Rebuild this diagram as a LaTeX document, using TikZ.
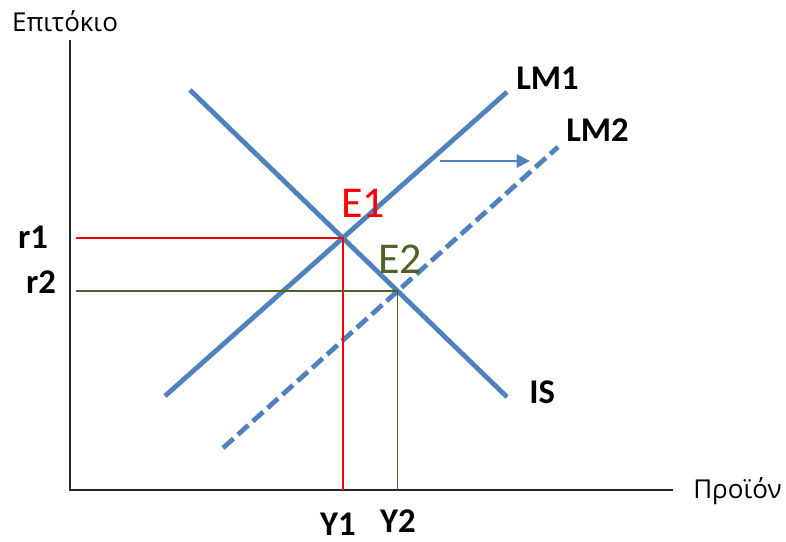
\documentclass[tikz,border=0pt]{standalone}
\usepackage{fontspec}
\setmainfont{Carlito}
\newfontfamily\axisfont{Open Sans}
\usetikzlibrary{arrows.meta, calc}
\definecolor{curveblue}{RGB}{79,129,189}
\definecolor{eqred}{RGB}{255,0,0}
\definecolor{eqgreen}{RGB}{79,98,40}

\begin{document}
\begin{tikzpicture}[
  x=0.75pt, y=-0.75pt,
  axis/.style={line width=1.5pt, black!85},
  curve/.style={line width=3.6pt, curveblue},
  dashcurve/.style={curve, dash pattern=on 10.5pt off 4.5pt},
  shiftarr/.style={-{Triangle[length=10pt,width=10pt]}, line width=1.5pt, curveblue},
  guidered/.style={line width=1.1pt, eqred},
  guidegreen/.style={line width=1.2pt, eqgreen},
  axlbl/.style={font=\axisfont\fontsize{19.5}{24}\selectfont, inner sep=0pt},
  curvelbl/.style={font=\bfseries\fontsize{26}{30}\selectfont, inner sep=0pt},
  eqlbl/.style={font=\fontsize{33}{38}\selectfont, inner sep=0pt}
]
\useasboundingbox (0,0) rectangle (786,542);

% ── Axes ───────────────────────────────────────────────────────
\coordinate (origin) at (70,490);
\coordinate (ytop)   at (70,40);
\coordinate (xend)   at (673,490);
\draw[axis] (ytop) -- (origin) -- (xend);

\node[axlbl, anchor=base]      (ylab) at (65,32)  {Επιτόκιο};
\node[axlbl, anchor=base west] (xlab) at (693,498) {Προϊόν};

% ── Curves ─────────────────────────────────────────────────────
\coordinate (lmA) at (165,396);  \coordinate (lmB) at (507,92);
\coordinate (isA) at (190,90);   \coordinate (isB) at (507,397);
\coordinate (lnA) at (223,448);  \coordinate (lnB) at (558,147);

\draw[curve]     (lmA) -- (lmB);
\draw[curve]     (isA) -- (isB);
\draw[dashcurve] (lnA) -- (lnB);

\node[curvelbl, anchor=base west] (lm1) at (516,90)  {LM1};
\node[curvelbl, anchor=base west] (lm2) at (566,142) {LM2};
\node[curvelbl, anchor=base west] (is)  at (529,403) {IS};

% ── Shift of LM ────────────────────────────────────────────────
\coordinate (shiftA) at (440,161);
\coordinate (shiftB) at (530,161);
\draw[shiftarr] (shiftA) -- (shiftB);

% ── Equilibria ─────────────────────────────────────────────────
\coordinate (e1) at (intersection of lmA--lmB and isA--isB);
\coordinate (e2) at (intersection of lnA--lnB and isA--isB);
\coordinate (gstart) at (76,0);

\draw[guidered]   (gstart |- e1) -- (e1) -- (e1 |- origin);
\draw[guidegreen] (gstart |- e2) -- (e2) -- (e2 |- origin);

\node[eqlbl, eqred,   anchor=base west] (e1lbl) at (341,217) {E1};
\node[eqlbl, eqgreen, anchor=base west] (e2lbl) at (378,273) {E2};

\node[curvelbl, anchor=base] (r1) at (33,248)  {r1};
\node[curvelbl, anchor=base] (r2) at (41,293)  {r2};
\node[curvelbl, anchor=base] (y1) at (338,535) {Y1};
\node[curvelbl, anchor=base] (y2) at (398,532) {Y2};

\end{tikzpicture}
\end{document}
